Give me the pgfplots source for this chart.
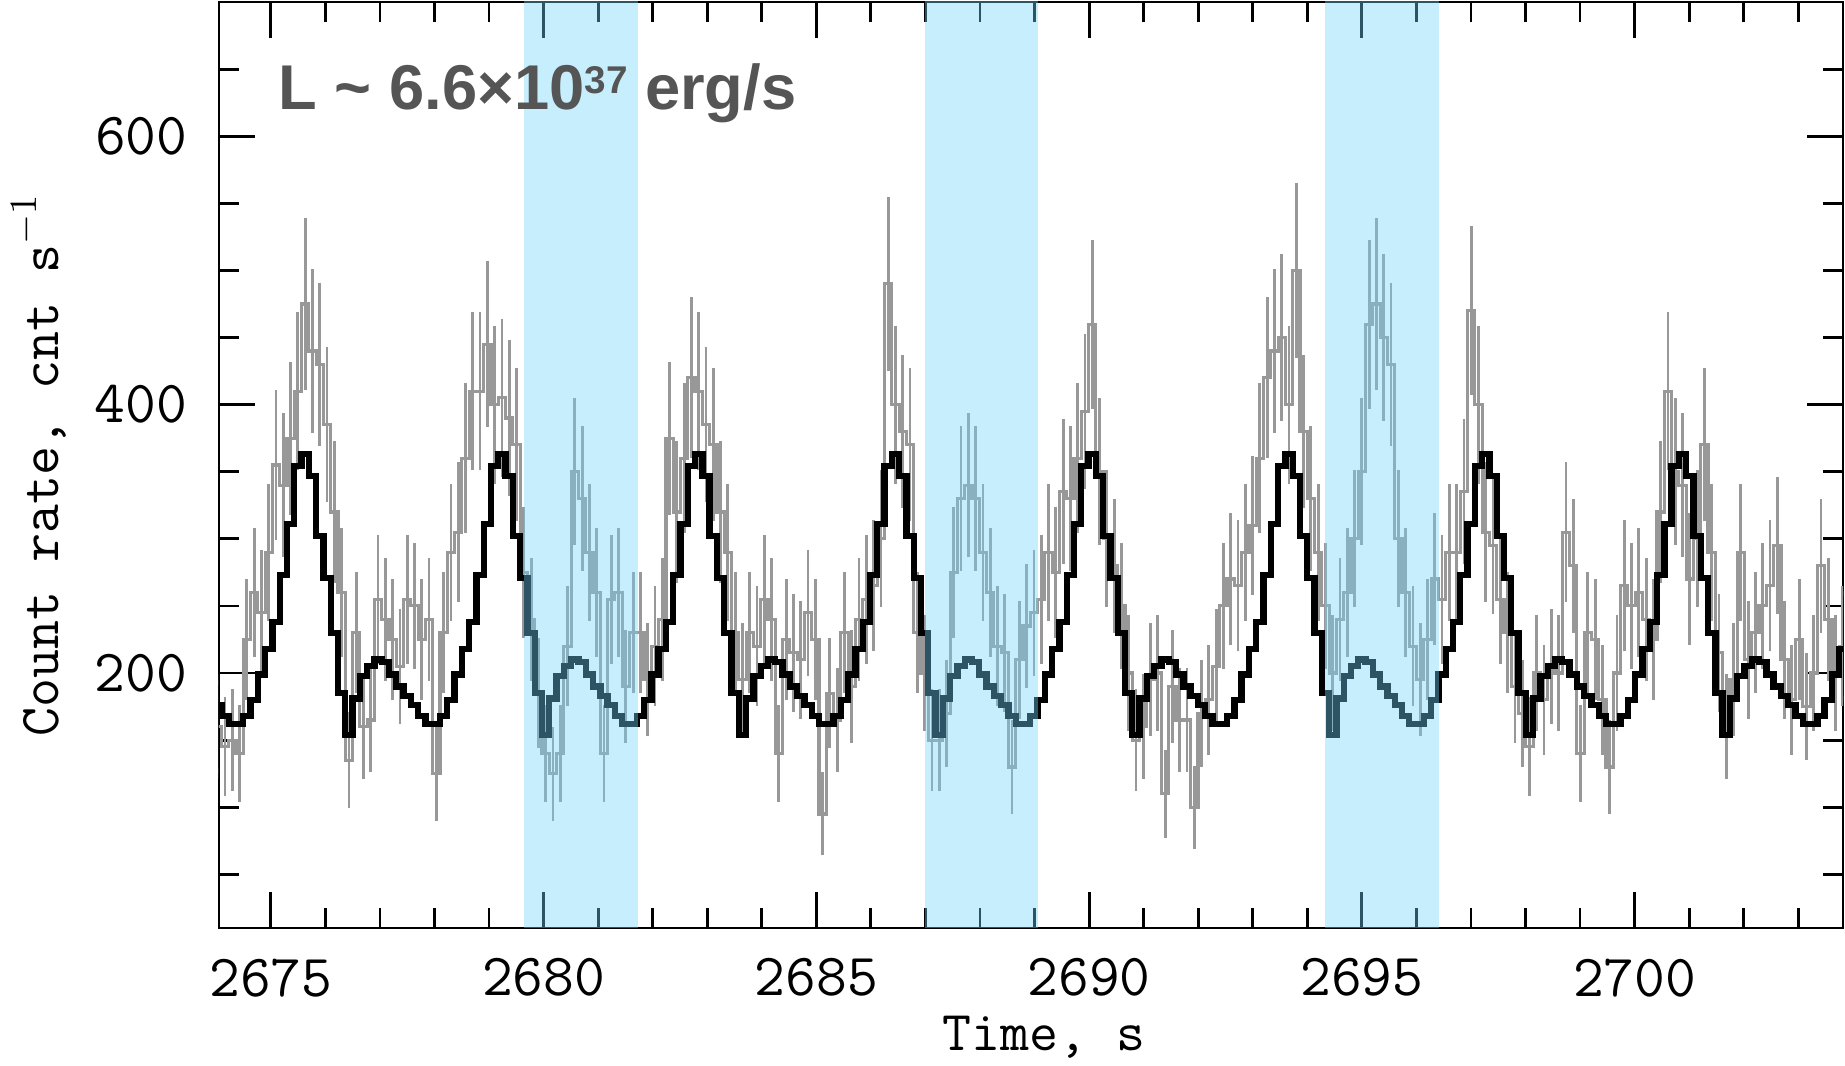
\documentclass[border=0pt]{standalone}
\usepackage{fontspec}
\usepackage{pgfplots}
\usepackage{pgfplotstable}
\pgfplotsset{compat=1.18}
\newfontfamily\annfont{Liberation Sans}
\definecolor{datgray}{RGB}{152,152,152}
\definecolor{bandblue}{RGB}{112,212,250}
\definecolor{anncol}{RGB}{85,85,85}

% observed light curve: rate and 1-sigma error, bins of 0.13359 s starting at 2674.027 s
\pgfplotstableread[row sep=\\]{
y e\\
160 35\\ 145 33\\ 150 34\\ 140 32\\ 225 41\\ 260 44\\ 245 43\\ 290 47\\ 355 52\\ 340 50\\
375 53\\ 410 55\\ 475 60\\ 440 57\\ 430 57\\ 385 54\\ 320 49\\ 260 44\\ 135 32\\ 230 41\\
160 35\\ 165 35\\ 255 44\\ 240 42\\ 225 41\\ 205 39\\ 255 44\\ 250 43\\ 225 41\\ 240 42\\
125 31\\ 230 41\\ 290 47\\ 305 48\\ 360 52\\ 410 55\\ 410 55\\ 445 58\\ 400 55\\ 405 55\\
390 54\\ 370 53\\ 275 45\\ 240 42\\ 185 37\\ 140 32\\ 125 31\\ 140 32\\ 220 41\\ 350 51\\
330 50\\ 290 47\\ 260 44\\ 140 32\\ 255 44\\ 260 44\\ 190 38\\ 230 41\\ 230 41\\ 195 38\\
220 41\\ 240 42\\ 375 53\\ 320 49\\ 360 52\\ 420 56\\ 410 55\\ 385 54\\ 370 53\\ 320 49\\
290 47\\ 230 41\\ 195 38\\ 230 41\\ 220 41\\ 255 44\\ 240 42\\ 140 32\\ 225 41\\ 215 40\\
210 40\\ 245 43\\ 225 41\\ 95 27\\ 185 37\\ 165 35\\ 230 41\\ 190 38\\ 240 42\\ 255 44\\
265 45\\ 300 47\\ 490 61\\ 400 55\\ 380 53\\ 370 53\\ 230 41\\ 200 39\\ 150 34\\ 150 34\\
170 36\\ 275 45\\ 330 50\\ 340 50\\ 330 50\\ 290 47\\ 260 44\\ 220 41\\ 215 40\\ 130 31\\
210 40\\ 235 42\\ 245 43\\ 255 44\\ 290 47\\ 275 45\\ 335 50\\ 330 50\\ 360 52\\ 395 54\\
460 59\\ 350 51\\ 300 47\\ 280 46\\ 250 43\\ 200 39\\ 150 34\\ 160 35\\ 195 38\\ 200 39\\
110 29\\ 190 38\\ 165 35\\ 165 35\\ 100 27\\ 170 36\\ 180 37\\ 205 39\\ 250 43\\ 270 45\\
265 45\\ 290 47\\ 310 48\\ 360 52\\ 420 56\\ 440 57\\ 450 58\\ 400 55\\ 500 61\\ 380 53\\
330 50\\ 290 47\\ 250 43\\ 200 39\\ 240 42\\ 260 44\\ 300 47\\ 350 51\\ 460 59\\ 475 60\\
450 58\\ 430 57\\ 300 47\\ 260 44\\ 220 41\\ 195 38\\ 225 41\\ 270 45\\ 255 44\\ 290 47\\
290 47\\ 335 50\\ 470 59\\ 400 55\\ 305 48\\ 295 47\\ 255 44\\ 230 41\\ 190 38\\ 170 36\\
145 33\\ 200 39\\ 180 37\\ 205 39\\ 200 39\\ 305 48\\ 280 46\\ 140 32\\ 230 41\\ 225 41\\
180 37\\ 130 31\\ 200 39\\ 265 45\\ 250 43\\ 260 44\\ 240 42\\ 225 41\\ 320 49\\ 410 55\\
350 51\\ 340 50\\ 270 45\\ 300 47\\ 370 53\\ 290 47\\ 215 40\\ 160 35\\ 195 38\\ 290 47\\
210 40\\ 230 41\\ 250 43\\ 265 45\\ 295 47\\ 210 40\\ 180 37\\ 225 41\\ 175 36\\ 200 39\\
280 46\\ 240 42\\ 200 39\\ 220 41\\
}\datatab

% pulse-profile model on the same bins
\pgfplotstableread[row sep=\\]{
y\\
176\\ 168\\ 162\\ 162\\ 168\\ 180\\ 199\\ 218\\ 238\\ 273\\ 311\\ 354\\
363\\ 347\\ 302\\ 271\\ 230\\ 185\\ 154\\ 181\\ 198\\ 205\\ 210\\ 208\\ 199\\ 190\\ 183\\ 176\\ 168\\ 162\\ 162\\ 168\\ 180\\ 199\\ 218\\ 238\\ 273\\ 311\\ 354\\
363\\ 347\\ 302\\ 271\\ 230\\ 185\\ 154\\ 181\\ 198\\ 205\\ 210\\ 208\\ 199\\ 190\\ 183\\ 176\\ 168\\ 162\\ 162\\ 168\\ 180\\ 199\\ 218\\ 238\\ 273\\ 311\\ 354\\
363\\ 347\\ 302\\ 271\\ 230\\ 185\\ 154\\ 181\\ 198\\ 205\\ 210\\ 208\\ 199\\ 190\\ 183\\ 176\\ 168\\ 162\\ 162\\ 168\\ 180\\ 199\\ 218\\ 238\\ 273\\ 311\\ 354\\
363\\ 347\\ 302\\ 271\\ 230\\ 185\\ 154\\ 181\\ 198\\ 205\\ 210\\ 208\\ 199\\ 190\\ 183\\ 176\\ 168\\ 162\\ 162\\ 168\\ 180\\ 199\\ 218\\ 238\\ 273\\ 311\\ 354\\
363\\ 347\\ 302\\ 271\\ 230\\ 185\\ 154\\ 181\\ 198\\ 205\\ 210\\ 208\\ 199\\ 190\\ 183\\ 176\\ 168\\ 162\\ 162\\ 168\\ 180\\ 199\\ 218\\ 238\\ 273\\ 311\\ 354\\
363\\ 347\\ 302\\ 271\\ 230\\ 185\\ 154\\ 181\\ 198\\ 205\\ 210\\ 208\\ 199\\ 190\\ 183\\ 176\\ 168\\ 162\\ 162\\ 168\\ 180\\ 199\\ 218\\ 238\\ 273\\ 311\\ 354\\
363\\ 347\\ 302\\ 271\\ 230\\ 185\\ 154\\ 181\\ 198\\ 205\\ 210\\ 208\\ 199\\ 190\\ 183\\ 176\\ 168\\ 162\\ 162\\ 168\\ 180\\ 199\\ 218\\ 238\\ 273\\ 311\\ 354\\
363\\ 347\\ 302\\ 271\\ 230\\ 185\\ 154\\ 181\\ 198\\ 205\\ 210\\ 208\\ 199\\ 190\\ 183\\ 176\\ 168\\ 162\\ 162\\ 168\\ 180\\ 199\\ 218\\ 238\\ 273\\ 311\\ 354\\
}\modeltab

\begin{document}
\begin{tikzpicture}
\begin{axis}[
  name=ax,
  scale only axis,
  width=16.24cm, height=9.26cm,
  xmin=2674.05, xmax=2703.82,
  ymin=10, ymax=700,
  clip=true,
  axis line style={line width=0.8pt, black},
  tick style={line width=0.8pt, black},
  tick align=inside,
  xtick pos=both, ytick pos=both,
  xticklabel pos=lower, yticklabel pos=left,
  major tick length=3.6mm, minor tick length=2mm,
  xtick={2675,2680,2685,2690,2695,2700},
  xticklabels={2675,2680,2685,2690,2695,2700},
  minor xtick={2674,2675,...,2703},
  ytick={200,400,600},
  yticklabels={200,400,600},
  minor ytick={50,100,...,700},
  ticklabel style={font=\ttfamily\fontsize{17}{17}\selectfont, inner sep=0pt},
  xticklabel style={anchor=north, yshift=-3.0mm},
  yticklabel style={anchor=east, xshift=-3.1mm},
  xlabel={Time, s},
  ylabel={Count rate, cnt s$^{-1}$},
  label style={font=\ttfamily\fontsize{16}{16}\selectfont},
  xlabel style={at={(axis description cs:0.508,0)}, anchor=base, yshift=-12.3mm},
  ylabel style={at={(axis description cs:-0.111,0.5)}, anchor=center, rotate=0},
]
\addplot[const plot mark mid, draw=datgray, line width=0.9pt, mark=none,
  error bars/.cd, y dir=both, y explicit,
  error bar style={line width=0.8pt, datgray},
  error mark options={line width=0.8pt, datgray, mark size=1.5pt}]
  table[x expr=2674.027+0.13359*\coordindex, y=y, y error=e] {\datatab};
\addplot[const plot mark mid, draw=black, line width=1.8pt, mark=none]
  table[x expr=2674.027+0.13359*\coordindex, y=y] {\modeltab};
\addplot[draw=none, fill=bandblue, fill opacity=0.4]
  coordinates {(2679.65,0) (2681.73,0) (2681.73,720) (2679.65,720)} -- cycle;
\addplot[draw=none, fill=bandblue, fill opacity=0.4]
  coordinates {(2686.99,0) (2689.07,0) (2689.07,720) (2686.99,720)} -- cycle;
\addplot[draw=none, fill=bandblue, fill opacity=0.4]
  coordinates {(2694.33,0) (2696.41,0) (2696.41,720) (2694.33,720)} -- cycle;
\node[anchor=base west, inner sep=0pt, text=anncol,
  font=\annfont\bfseries\fontsize{18}{18}\selectfont]
  at (axis cs:2675.13,620)
  {L \textasciitilde{} 6.6×10\raisebox{4.5pt}{\fontsize{11}{11}\selectfont 37} erg/s};
\end{axis}
\pgfresetboundingbox
\path[use as bounding box] ([xshift=-21.9mm,yshift=-13.8mm]ax.south west) rectangle ([xshift=0.2mm,yshift=0.2mm]ax.north east);
\end{tikzpicture}
\end{document}
